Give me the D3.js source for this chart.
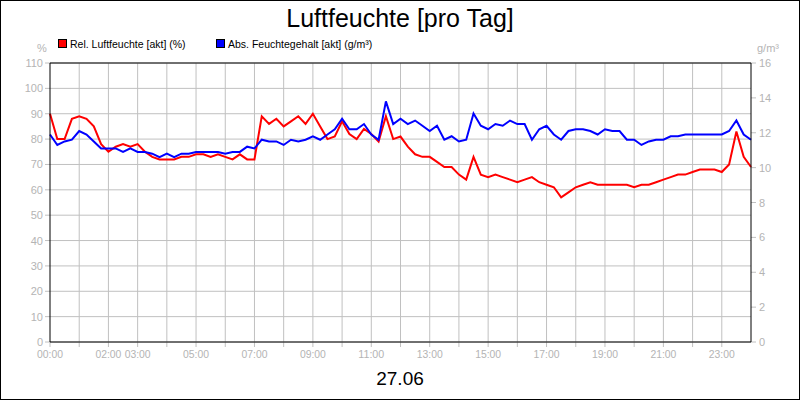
<!DOCTYPE html><html><head><meta charset="utf-8">
<script src="https://cdn.jsdelivr.net/npm/d3@7"></script>
<style>body{margin:0}svg{display:block}text{font-family:"Liberation Sans",Arial,sans-serif}</style></head><body>
<svg id="c" width="800" height="400"></svg>
<script>
const hours=d3.range(0,24.01,0.25);
const relHum=[90,80,80,88,89,88,85,78,75,77,78,77,78,75,73,72,72,72,73,73,74,74,73,74,73,72,74,72,72,89,86,88,85,87,89,86,90,85,80,81,87,82,80,84,82,79,89,80,81,77,74,73,73,71,69,69,66,64,73,66,65,66,65,64,63,64,65,63,62,61,57,59,61,62,63,62,62,62,62,62,61,62,62,63,64,65,66,66,67,68,68,68,67,70,83,73,69];
const absHum=[11.9,11.3,11.5,11.6,12.1,11.9,11.5,11.1,11.1,11.1,10.9,11.1,10.9,10.9,10.8,10.6,10.8,10.6,10.8,10.8,10.9,10.9,10.9,10.9,10.8,10.9,10.9,11.2,11.1,11.6,11.5,11.5,11.3,11.6,11.5,11.6,11.8,11.6,11.9,12.2,12.8,12.2,12.2,12.5,11.9,11.6,13.8,12.5,12.8,12.5,12.7,12.4,12.1,12.4,11.6,11.8,11.5,11.6,13.1,12.4,12.2,12.5,12.4,12.7,12.5,12.5,11.6,12.2,12.4,11.9,11.6,12.1,12.2,12.2,12.1,11.9,12.2,12.1,12.1,11.6,11.6,11.3,11.5,11.6,11.6,11.8,11.8,11.9,11.9,11.9,11.9,11.9,11.9,12.1,12.7,11.9,11.6];
const xTickHours=[0,2,3,5,7,9,11,13,15,17,19,21,23];
const xTickLabels=["00:00","02:00","03:00","05:00","07:00","09:00","11:00","13:00","15:00","17:00","19:00","21:00","23:00"];
const leftTicks=d3.range(0,111,10), rightTicks=d3.range(0,17,2);
const svg=d3.select("#c");
const L=50,R=751,T=63,B=342;
svg.append("rect").attr("x",0.5).attr("y",0.5).attr("width",799).attr("height",399).attr("fill","#fff").attr("stroke","#000");
const x=d3.scaleLinear().domain([0,24]).range([L,R]);
const yl=d3.scaleLinear().domain([0,110]).range([B,T]);
const yr=d3.scaleLinear().domain([0,16]).range([B,T]);
const g=svg.append("g");
g.selectAll(".vg").data(d3.range(1,24)).join("line").attr("x1",d=>x(d)).attr("x2",d=>x(d)).attr("y1",T).attr("y2",B+5).attr("stroke","#c0c0c0");
g.selectAll(".hg").data(leftTicks).join("line").attr("x1",L-5).attr("x2",R).attr("y1",d=>yl(d)).attr("y2",d=>yl(d)).attr("stroke","#c0c0c0");
g.selectAll(".rt").data(rightTicks).join("line").attr("x1",R).attr("x2",R+5).attr("y1",d=>yr(d)).attr("y2",d=>yr(d)).attr("stroke","#c0c0c0");
g.append("line").attr("x1",L).attr("x2",L).attr("y1",B).attr("y2",B+5).attr("stroke","#c0c0c0");
const gray="#b4b4b4";
g.selectAll(".lt").data(leftTicks).join("text").attr("x",L-7).attr("y",d=>yl(d)+4).attr("text-anchor","end").attr("font-size",11).attr("fill",gray).text(d=>d);
g.selectAll(".rtt").data(rightTicks).join("text").attr("x",R+8).attr("y",d=>yr(d)+4).attr("font-size",11).attr("fill",gray).text(d=>d);
g.selectAll(".xt").data(xTickHours).join("text").attr("x",d=>x(d)).attr("y",B+16).attr("text-anchor","middle").attr("font-size",10.5).attr("fill",gray).attr("textLength",26).attr("lengthAdjust","spacingAndGlyphs").text((d,i)=>xTickLabels[i]);
svg.append("text").attr("x",42).attr("y",52).attr("font-size",11).attr("fill",gray).attr("text-anchor","middle").text("%");
svg.append("text").attr("x",768).attr("y",52).attr("font-size",11).attr("fill",gray).attr("text-anchor","middle").text("g/m³");
const ln=d3.line().x((d,i)=>x(hours[i]));
svg.append("path").datum(relHum).attr("d",ln.y(d=>yl(d))).attr("fill","none").attr("stroke","#ff0000").attr("stroke-width",2);
svg.append("path").datum(absHum).attr("d",d3.line().x((d,i)=>x(hours[i])).y(d=>yr(d))).attr("fill","none").attr("stroke","#0000ff").attr("stroke-width",2);
svg.append("path").attr("d",`M${L},${B}V${T}H${R}V${B}Z`).attr("fill","none").attr("stroke","#000");
svg.append("text").attr("x",400).attr("y",27).attr("text-anchor","middle").attr("font-size",25).text("Luftfeuchte [pro Tag]");
const leg=[["Rel. Luftfeuchte [akt] (%)","#ff0000",58],["Abs. Feuchtegehalt [akt] (g/m³)","#0000ff",216]];
leg.forEach(([t,c,lx])=>{svg.append("rect").attr("x",lx+0.5).attr("y",39.5).attr("width",8).attr("height",8).attr("fill",c).attr("stroke","#000");
svg.append("text").attr("x",lx+12).attr("y",48).attr("font-size",10.5).text(t);});
svg.append("text").attr("x",400).attr("y",385).attr("text-anchor","middle").attr("font-size",19).text("27.06");
</script></body></html>
